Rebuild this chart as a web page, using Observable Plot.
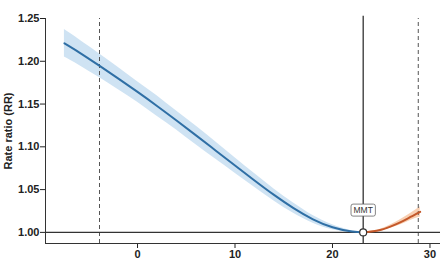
<!DOCTYPE html>
<html><head><meta charset="utf-8">
<script src="https://cdn.jsdelivr.net/npm/d3@7"></script>
<script src="https://cdn.jsdelivr.net/npm/@observablehq/plot@0.6"></script>
<style>
body{margin:0;background:#fff;}
#chart{width:440px;height:264px;}
</style></head>
<body><div id="chart"></div>
<script>
// Temperature (x) vs rate ratio; below MMT (blue) and above MMT (orange)
const coldX  = [-7.5,-6,-4,-2,0,2,4,6,8,10,12,14,16,18,20,22,23.15];
const coldRR = [1.221,1.2105,1.1955,1.1800,1.1642,1.1478,1.1308,1.1134,1.0958,1.0782,1.0607,1.0438,1.0284,1.0153,1.0060,1.0009,1.000];
const coldLo = [1.205,1.1955,1.1815,1.1670,1.1522,1.1358,1.1198,1.1024,1.0858,1.0692,1.0527,1.0368,1.0224,1.0108,1.0030,0.9999,1.000];
const coldHi = [1.237,1.2255,1.2095,1.1930,1.1762,1.1598,1.1418,1.1244,1.1058,1.0872,1.0687,1.0508,1.0344,1.0198,1.0090,1.0019,1.000];
const heatX  = [23.15,24,25,26,27,28,29];
const heatRR = [1.000,1.001,1.003,1.007,1.012,1.018,1.024];
const heatLo = [1.000,1.0005,1.002,1.005,1.009,1.014,1.018];
const heatHi = [1.000,1.0015,1.004,1.009,1.015,1.022,1.030];
const mmt = 23.15;
const percentiles = [-3.9, 28.8];
const yTicks = [1.00,1.05,1.10,1.15,1.20,1.25];
const xTicks = [0,10,20,30];

const cold = coldX.map((x,i)=>({x, y:coldRR[i], lo:coldLo[i], hi:coldHi[i]}));
const heat = heatX.map((x,i)=>({x, y:heatRR[i], lo:heatLo[i], hi:heatHi[i]}));
const yMin = 0.987, yMax = 1.25;

const chart = Plot.plot({
  width: 440, height: 264,
  marginLeft: 45, marginRight: 0, marginTop: 18, marginBottom: 21,
  style: {fontFamily: "Liberation Sans, Arial, sans-serif", fontSize: "11px", fontWeight: "bold", color: "#222", background: "#fff"},
  x: {domain: [-9.44, 31.08], ticks: xTicks, tickSize: 5, tickPadding: 2, label: null, tickFormat: d3.format("d")},
  y: {domain: [yMin, yMax], ticks: yTicks, tickSize: 5, tickPadding: 1, tickFormat: d3.format(".2f"),
      label: "Rate ratio (RR)", labelAnchor: "center", labelArrow: "none", labelOffset: 41},
  marks: [
    Plot.areaY(cold, {x: "x", y1: "lo", y2: "hi", fill: "#cfe3f3", curve: "natural"}),
    Plot.areaY(heat, {x: "x", y1: "lo", y2: "hi", fill: "#f8cfb2", curve: "natural"}),
    Plot.ruleX(percentiles, {y1: yMin, y2: yMax, stroke: "#555", strokeWidth: 1, strokeDasharray: "4,3"}),
    Plot.ruleY([1], {stroke: "#333", strokeWidth: 1.2}),
    Plot.ruleX([mmt], {y1: yMin, y2: 1.2525, stroke: "#333", strokeWidth: 1.3}),
    Plot.lineY(cold, {x: "x", y: "y", stroke: "#2f6fa5", strokeWidth: 2, curve: "natural"}),
    Plot.lineY(heat, {x: "x", y: "y", stroke: "#c4582a", strokeWidth: 2, curve: "natural"}),
    Plot.ruleX([-9.44], {y1: yMin, y2: yMax, stroke: "#333", strokeWidth: 1}),
    Plot.ruleY([yMin], {stroke: "#333", strokeWidth: 1}),
    Plot.dot([{x: mmt, y: 1}], {x: "x", y: "y", r: 3.5, fill: "#fff", stroke: "#333", strokeWidth: 1.2}),
    Plot.text([{x: mmt, y: 1, t: "MMT"}], {x: "x", y: "y", text: "t", dy: -22, fontSize: 8.5, fontWeight: "normal", fill: "#333", className: "mmtlabel"})
  ]
});
document.getElementById("chart").appendChild(chart);
// white boxed label behind "MMT"
const txt = chart.querySelector(".mmtlabel text");
if (txt) {
  const b = txt.getBBox();
  const ns = "http://www.w3.org/2000/svg";
  const r = document.createElementNS(ns, "rect");
  r.setAttribute("x", b.x - 2.5); r.setAttribute("y", b.y - 1);
  r.setAttribute("width", b.width + 5); r.setAttribute("height", b.height + 2);
  r.setAttribute("rx", 2); r.setAttribute("fill", "#fff"); r.setAttribute("stroke", "#666"); r.setAttribute("stroke-width", 0.8);
  const tr = txt.getAttribute("transform");
  if (tr) r.setAttribute("transform", tr);
  txt.parentNode.insertBefore(r, txt);
}
</script></body></html>
